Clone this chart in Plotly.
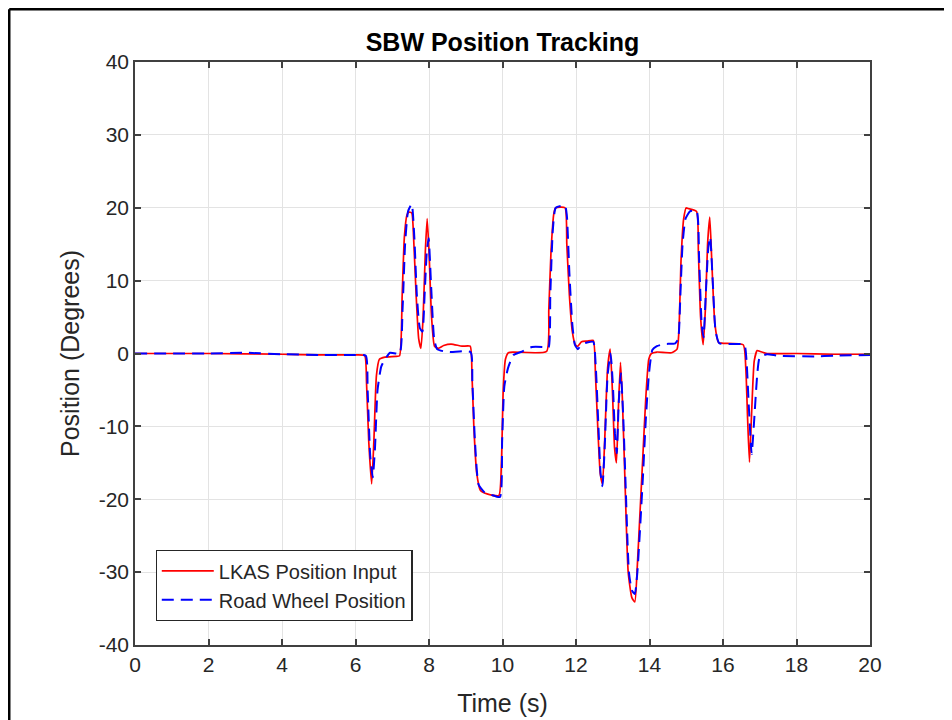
import plotly.graph_objects as go

# LKAS Position Input (red, solid)
lkas_t = [0, 2, 4, 5, 6.0, 6.25, 6.3, 6.36, 6.44, 6.5, 6.57, 6.65, 6.8, 7.1, 7.2, 7.27, 7.33, 7.4, 7.45,
          7.53, 7.58, 7.65, 7.72, 7.78, 7.84, 7.9, 7.95, 8.0, 8.07, 8.15, 8.25, 8.4, 8.6, 8.9, 9.12, 9.17,
          9.22, 9.3, 9.4, 9.6, 9.9, 9.97, 10.02, 10.08, 10.16, 10.3, 11.2, 11.26, 11.32, 11.4, 11.45, 11.7,
          11.75, 11.82, 11.9, 11.98, 12.05, 12.15, 12.3, 12.47, 12.53, 12.6, 12.66, 12.72, 12.78, 12.86,
          12.93, 12.99, 13.05, 13.1, 13.15, 13.21, 13.26, 13.33, 13.42, 13.52, 13.6, 13.67, 13.74, 13.82,
          13.9, 13.98, 14.05, 14.2, 14.6, 14.75, 14.8, 14.86, 14.93, 15.0, 15.05, 15.28, 15.33, 15.39,
          15.46, 15.52, 15.58, 15.64, 15.7, 15.78, 15.88, 16.0, 16.55, 16.62, 16.67, 16.72, 16.78, 16.85,
          16.93, 17.0, 17.2, 18, 19, 20]
lkas_v = [0, 0, -0.1, -0.2, -0.2, -0.3, -4, -12, -17.9, -12, -3, -0.8, -0.5, -0.4, -0.3, 8, 16, 19, 19.4,
          19.3, 16, 8, 2, 0.7, 5, 14, 18.5, 14, 5, 1, 0.7, 1.1, 1.3, 1.0, 1.0, -3,
          -10, -16.5, -18.8, -19.3, -19.5, -15, -5, -0.8, 0.1, 0.2, 0.3, 6, 14, 19.3, 20, 20,
          15, 8, 3, 1.2, 1.0, 1.6, 1.7, 1.8, -3, -11, -16.5, -17.9, -12, -2,
          0.6, -5, -13, -15, -8, -1.2, -6, -17, -30, -33.5, -34.1, -29, -22, -14,
          -6, -0.8, 0, 0.2, 0.1, 0.6, 3, 13, 18.5, 20, 19.9, 19.5, 14, 5,
          1.2, 6, 15, 18.7, 12, 4, 1.5, 1.4, 1.2, -2, -9, -14.9, -8, -1,
          0.4, 0.3, 0, 0, -0.1, -0.1]

# Road Wheel Position (blue, dashed)
road_t = [0, 2, 3, 4, 5, 6.0, 6.28, 6.33, 6.4, 6.47, 6.53, 6.6, 6.7, 6.8, 6.94, 7.2, 7.28, 7.35, 7.43,
          7.53, 7.6, 7.67, 7.75, 7.82, 7.88, 7.94, 7.99, 8.06, 8.14, 8.22, 8.4, 8.6, 9.13, 9.18, 9.25,
          9.35, 9.5, 9.7, 9.93, 9.99, 10.05, 10.15, 10.3, 10.5, 10.8, 11.1, 11.25, 11.3, 11.37, 11.45,
          11.7, 11.75, 11.82, 11.9, 11.97, 12.05, 12.15, 12.3, 12.47, 12.54, 12.61, 12.67, 12.72, 12.78,
          12.86, 12.94, 13.0, 13.06, 13.11, 13.16, 13.22, 13.28, 13.35, 13.44, 13.52, 13.6, 13.67, 13.74,
          13.82, 13.9, 13.98, 14.08, 14.2, 14.4, 14.7, 14.78, 14.84, 14.9, 14.98, 15.1, 15.28, 15.35,
          15.42, 15.47, 15.53, 15.6, 15.65, 15.72, 15.8, 15.9, 16.2, 16.58, 16.64, 16.7, 16.78, 16.85,
          16.93, 17.0, 17.2, 17.5, 18.5, 19, 20]
road_v = [0, 0, 0.1, -0.1, -0.2, -0.2, -0.3, -5, -14, -17, -13, -5, -1.8, -0.8, 0.1, 0, 6, 15, 19.5,
          20.5, 16, 8, 3.5, 3, 8, 14, 15.8, 9, 2, 0.6, 0.3, 0.2, 0.2, -4, -12,
          -18, -19, -19.4, -19.7, -12, -4.5, -2, -0.2, 0.2, 0.9, 0.9, 0.8, 8, 17, 20,
          20.3, 19, 11, 4, 1.2, 0.6, 1.2, 1.5, 1.6, -2, -10, -16.5, -18.2, -13,
          -3, 0, -4, -11, -13.7, -7, -2.7, -8, -18, -30, -32.5, -33, -30, -24.3,
          -17, -9, -3, 0.5, 1.0, 1.3, 1.4, 2, 8, 15, 18.5, 19.5, 19.6, 13,
          4, 2.2, 8, 14.5, 16, 10, 3, 1.4, 1.3, 1.2, -1, -7, -13.8, -9,
          -3, -0.5, -0.1, -0.3, -0.4, -0.3, -0.2]

x_ticks = [0, 2, 4, 6, 8, 10, 12, 14, 16, 18, 20]
y_ticks = [-40, -30, -20, -10, 0, 10, 20, 30, 40]

FONT = "Liberation Sans, Arial, sans-serif"
TXT = "#262626"

fig = go.Figure()
fig.add_trace(go.Scatter(x=lkas_t, y=lkas_v, mode="lines", name="LKAS Position Input",
                         line=dict(color="#ff0000", width=1.7, shape="spline", smoothing=0.5)))
fig.add_trace(go.Scatter(x=road_t, y=road_v, mode="lines", name="Road Wheel Position",
                         line=dict(color="#0000ff", width=2, dash="12px,7px", shape="spline", smoothing=0.5)))

axis_common = dict(showline=True, linecolor="#404040", linewidth=1.5, mirror="ticks",
                   ticks="inside", ticklen=6, tickcolor="#404040", tickwidth=1.5,
                   showgrid=True, gridcolor="#e3e3e3", gridwidth=1, zeroline=False,
                   tickfont=dict(family=FONT, size=21, color=TXT))

fig.update_layout(
    width=952, height=720,
    paper_bgcolor="white", plot_bgcolor="white",
    margin=dict(l=127, r=90, t=54, b=83),
    title=dict(text="<b>SBW Position Tracking</b>", x=0.5, xref="paper", xanchor="center",
               y=1.0, yref="paper", yanchor="bottom", pad=dict(b=11),
               font=dict(family=FONT, size=25, color="#000000")),
    xaxis=dict(range=[0, 20], tickvals=x_ticks, ticktext=[str(v) for v in x_ticks],
               title=dict(text="Time (s)", font=dict(family=FONT, size=25, color=TXT), standoff=20),
               **axis_common),
    yaxis=dict(range=[-40, 40], tickvals=y_ticks, ticktext=[str(v) for v in y_ticks],
               title=dict(text="Position (Degrees)", font=dict(family=FONT, size=25, color=TXT), standoff=12),
               **axis_common),
    legend=dict(x=0.028, y=0.041, xanchor="left", yanchor="bottom",
                bgcolor="white", bordercolor="#262626", borderwidth=1.2,
                itemwidth=52,
                font=dict(family=FONT, size=20, color=TXT), tracegroupgap=0),
    showlegend=True,
    shapes=[
        dict(type="line", xref="paper", yref="paper", x0=-0.1711, x1=-0.1711, y0=-0.2, y1=1.0906,
             line=dict(color="black", width=2.5)),
        dict(type="line", xref="paper", yref="paper", x0=-0.1711, x1=1.2, y0=1.0906, y1=1.0906,
             line=dict(color="black", width=2.5)),
    ],
)

fig.write_html("out.html")
